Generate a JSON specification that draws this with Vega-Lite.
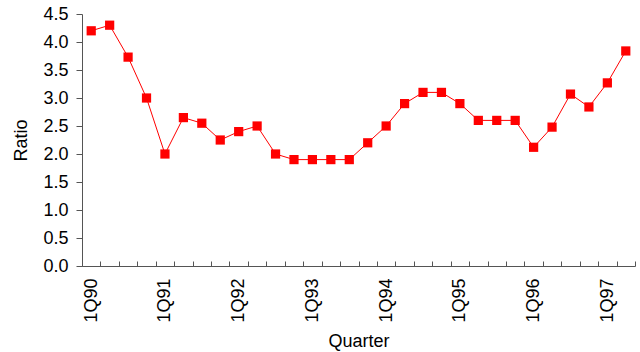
{
  "$schema": "https://vega.github.io/schema/vega-lite/v6.json",
  "width": 553,
  "height": 252,
  "autosize": {"type": "none"},
  "padding": {"left": 82, "top": 14, "right": 5, "bottom": 86},
  "background": "white",
  "config": {
    "view": {"stroke": null},
    "font": "Liberation Sans",
    "axis": {
      "grid": false,
      "domainColor": "#555555",
      "tickColor": "#555555",
      "labelColor": "#000000",
      "titleColor": "#000000",
      "labelFont": "Liberation Sans",
      "titleFont": "Liberation Sans",
      "labelFontSize": 18,
      "titleFontSize": 18,
      "titleFontWeight": "normal"
    }
  },
  "data": {
    "values": [
      {"quarter": "1Q90", "ratio": 4.2},
      {"quarter": "2Q90", "ratio": 4.3},
      {"quarter": "3Q90", "ratio": 3.73},
      {"quarter": "4Q90", "ratio": 3.0},
      {"quarter": "1Q91", "ratio": 2.0},
      {"quarter": "2Q91", "ratio": 2.65},
      {"quarter": "3Q91", "ratio": 2.55},
      {"quarter": "4Q91", "ratio": 2.25},
      {"quarter": "1Q92", "ratio": 2.4},
      {"quarter": "2Q92", "ratio": 2.5},
      {"quarter": "3Q92", "ratio": 2.0},
      {"quarter": "4Q92", "ratio": 1.9},
      {"quarter": "1Q93", "ratio": 1.9},
      {"quarter": "2Q93", "ratio": 1.9},
      {"quarter": "3Q93", "ratio": 1.9},
      {"quarter": "4Q93", "ratio": 2.2},
      {"quarter": "1Q94", "ratio": 2.5},
      {"quarter": "2Q94", "ratio": 2.9},
      {"quarter": "3Q94", "ratio": 3.1},
      {"quarter": "4Q94", "ratio": 3.1},
      {"quarter": "1Q95", "ratio": 2.9},
      {"quarter": "2Q95", "ratio": 2.6},
      {"quarter": "3Q95", "ratio": 2.6},
      {"quarter": "4Q95", "ratio": 2.6},
      {"quarter": "1Q96", "ratio": 2.12},
      {"quarter": "2Q96", "ratio": 2.48},
      {"quarter": "3Q96", "ratio": 3.07},
      {"quarter": "4Q96", "ratio": 2.84},
      {"quarter": "1Q97", "ratio": 3.27},
      {"quarter": "2Q97", "ratio": 3.84}
    ]
  },
  "encoding": {
    "x": {
      "field": "quarter",
      "type": "nominal",
      "sort": null,
      "scale": {"type": "band", "paddingInner": 0, "paddingOuter": 0},
      "axis": {
        "title": "Quarter",
        "titlePadding": 10,
        "labelAngle": -90,
        "labelAlign": "right",
        "labelBaseline": "middle",
        "labelPadding": 17,
        "labelOverlap": false,
        "labelExpr": "substring(datum.value, 0, 2) == '1Q' ? datum.value : ''",
        "tickBand": "extent",
        "tickSize": -5
      }
    },
    "y": {
      "field": "ratio",
      "type": "quantitative",
      "scale": {"domain": [0, 4.5], "nice": false},
      "axis": {
        "title": "Ratio",
        "values": [0, 0.5, 1, 1.5, 2, 2.5, 3, 3.5, 4, 4.5],
        "format": ".1f",
        "tickSize": 6,
        "labelPadding": 8,
        "titlePadding": 12
      }
    }
  },
  "layer": [
    {"mark": {"type": "line", "color": "#ff0000", "strokeWidth": 1}},
    {"mark": {"type": "point", "shape": "square", "filled": true, "color": "#ff0000", "opacity": 1, "size": 85}}
  ]
}
